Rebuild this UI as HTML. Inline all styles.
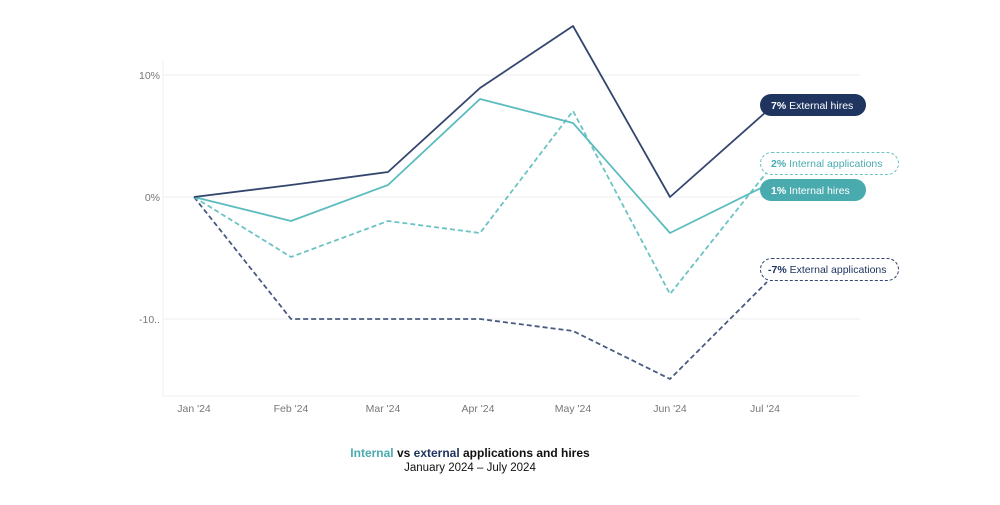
<!DOCTYPE html>
<html><head><meta charset="utf-8"><style>
body{margin:0;background:#fff;width:1000px;height:500px;overflow:hidden;font-family:"Liberation Sans",sans-serif}
</style></head><body>
<svg width="1000" height="500" xmlns="http://www.w3.org/2000/svg" font-family="Liberation Sans, sans-serif">
<line x1="163" y1="60" x2="163" y2="396" stroke="#f0f0f0"/>
<line x1="163" y1="396" x2="860" y2="396" stroke="#f0f0f0"/>
<g stroke="#eeeeee" stroke-width="1">
<line x1="163" y1="75" x2="860" y2="75"/>
<line x1="163" y1="197" x2="860" y2="197"/>
<line x1="163" y1="319" x2="860" y2="319"/>
</g>
<g font-size="10.5" fill="#777" text-anchor="end">
<text x="160" y="79">10%</text>
<text x="160" y="201">0%</text>
<text x="160" y="323">-10..</text>
</g>
<g font-size="10.5" fill="#777" text-anchor="middle">
<text x="194" y="412">Jan '24</text><text x="291" y="412">Feb '24</text><text x="383" y="412">Mar '24</text>
<text x="478" y="412">Apr '24</text><text x="573" y="412">May '24</text><text x="670" y="412">Jun '24</text><text x="765" y="412">Jul '24</text>
</g>
<g fill="none" stroke-width="1.8" stroke-linejoin="round">
<polyline stroke="#4a5a80" stroke-dasharray="5,3" points="194,197 291,319 388,319 480,319 573,331 670,379 767,282"/>
<polyline stroke="#6cc3c4" stroke-dasharray="5,3" points="194,197 291,257 388,221 480,233 573,111 670,294 767,172"/>
<polyline stroke="#5bbcbf" points="194,197 291,221 388,185 480,99 573,123 670,233 767,185"/>
<polyline stroke="#34466e" points="194,197 291,185 388,172 480,88 573,26 670,197 767,111"/>
</g>
<rect x="760" y="94" width="106" height="22" rx="11" fill="#1f3560"/>
<text x="771" y="109" font-size="10.5" fill="#fff"><tspan font-weight="bold">7%</tspan> External hires</text>
<rect x="760.5" y="152.5" width="138" height="22" rx="11" fill="#fff" stroke="#6cc3c4" stroke-dasharray="3,2"/>
<text x="771" y="167" font-size="10.5" fill="#4aabaf"><tspan font-weight="bold">2%</tspan> Internal applications</text>
<rect x="760" y="179" width="106" height="22" rx="11" fill="#4aabaf"/>
<text x="771" y="194" font-size="10.5" fill="#fff"><tspan font-weight="bold">1%</tspan> Internal hires</text>
<rect x="760.5" y="258.5" width="138" height="22" rx="11" fill="#fff" stroke="#34466e" stroke-dasharray="3,2"/>
<text x="768" y="273" font-size="10.5" fill="#1f3560"><tspan font-weight="bold">-7%</tspan> External applications</text>
<text x="470" y="457" font-size="12" font-weight="bold" text-anchor="middle"><tspan fill="#4aabaf">Internal</tspan><tspan fill="#111"> vs </tspan><tspan fill="#1f3560">external</tspan><tspan fill="#111"> applications and hires</tspan></text>
<text x="470" y="471" font-size="11.5" fill="#111" text-anchor="middle">January 2024 – July 2024</text>
</svg>
</body></html>
